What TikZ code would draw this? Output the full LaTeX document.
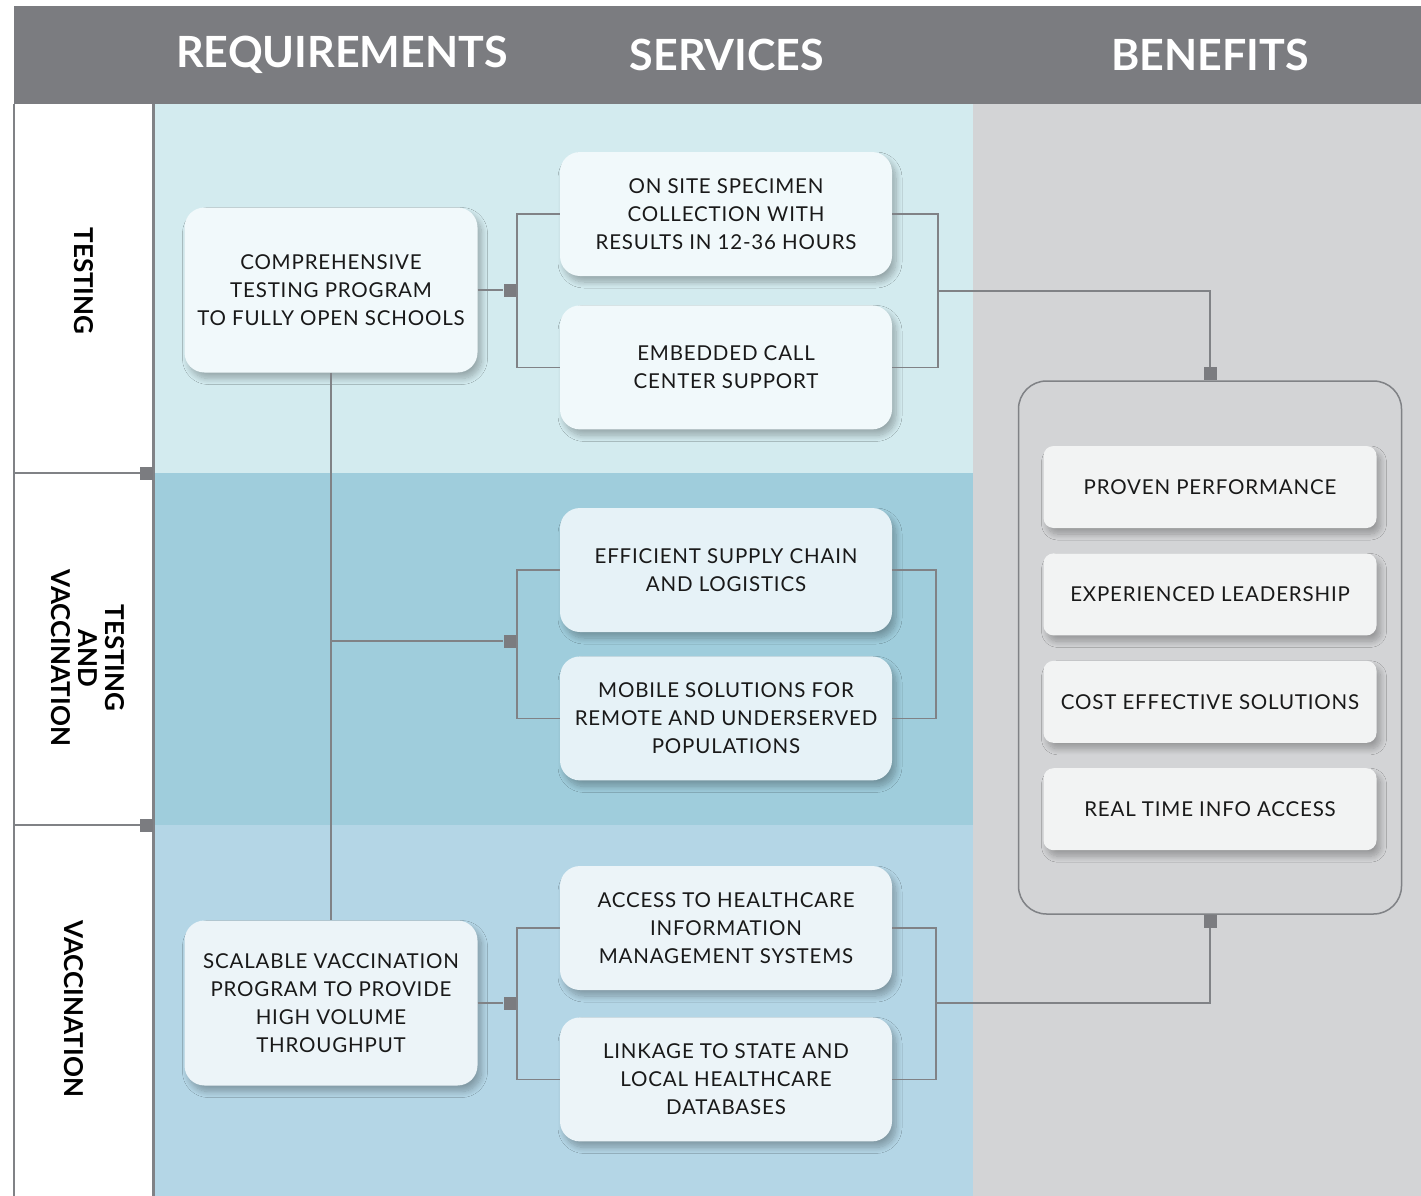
\documentclass[tikz,border=0pt]{standalone}
\usepackage{fontspec}
\setmainfont{Lato}[LetterSpace=4]
\newfontfamily\headfont{Lato}
\usetikzlibrary{positioning,shadows.blur}

\definecolor{headgray}{HTML}{7B7C80}
\definecolor{linegray}{HTML}{808286}
\definecolor{bandA}{HTML}{D3EBEF}
\definecolor{bandB}{HTML}{9FCDDC}
\definecolor{bandC}{HTML}{B4D6E6}
\definecolor{bengray}{HTML}{D3D4D6}
\definecolor{boxA}{HTML}{F1F9FB}
\definecolor{boxB}{HTML}{E6F2F7}
\definecolor{boxC}{HTML}{ECF4F8}
\definecolor{boxD}{HTML}{F2F3F3}

\begin{document}
\begin{tikzpicture}[x=1pt,y=-1pt,
    link/.style={draw=linegray,line width=1.6pt},
    jn/.style={fill=headgray,minimum size=13pt,inner sep=0pt},
    txt/.style={font=\fontsize{20.5}{28}\selectfont,align=center,text=black!90},
    soft/.style={blur shadow={shadow xshift=4pt,shadow yshift=-6pt,shadow opacity=28,shadow blur radius=6pt,shadow blur steps=10}},
    req/.style={txt,soft,rounded corners=20pt,minimum width=293pt,minimum height=165pt},
    svc/.style={txt,soft,rounded corners=20pt,minimum width=332pt,minimum height=124pt},
    ben/.style={txt,soft,fill=boxD,rounded corners=10pt,minimum width=333pt,minimum height=82pt},
    head/.style={font=\headfont\fontsize{43}{43}\selectfont\bfseries,text=white},
    side/.style={font=\headfont\fontsize{26}{27}\selectfont\bfseries,align=center,rotate=-90}]
  \useasboundingbox (0,0) rectangle (1421,1196);

  % header and bands
  \fill[white] (0,0) rectangle (1421,1196);
  \fill[headgray] (14,6) rectangle (1421,104);
  \fill[bandA] (153,104) rectangle (973,473);
  \fill[bandB] (153,473) rectangle (973,825);
  \fill[bandC] (153,825) rectangle (973,1196);
  \fill[bengray] (973,104) rectangle (1421,1196);

  \node[head] (hreq) at (342,55) {REQUIREMENTS};
  \node[head] (hsvc) at (727,55) {SERVICES};
  \node[head] (hben) at (1210,55) {BENEFITS};

  % row labels
  \draw[linegray,line width=1.5pt] (14,104) -- (14,1196);
  \draw[linegray,line width=3pt] (153,104) -- (153,1196);
  \draw[link] (14,473) -- (146,473);
  \draw[link] (14,825) -- (146,825);
  \node[jn] (row1) at (146,473) {};
  \node[jn] (row2) at (146,825) {};
  \node[side] (ltest) at (84,281) {TESTING};
  \node[side] (lboth) at (88,658) {TESTING\\AND\\VACCINATION};
  \node[side] (lvacc) at (74,1009) {VACCINATION};

  % requirements
  \node[req,fill=boxA] (comp) at (331,290) {COMPREHENSIVE\\TESTING PROGRAM\\TO FULLY OPEN SCHOOLS};
  \node[req,fill=boxC] (scal) at (331,1003) {SCALABLE VACCINATION\\PROGRAM TO PROVIDE\\HIGH VOLUME\\THROUGHPUT};

  % services
  \node[svc,fill=boxA] (onsite) at (726,214) {ON SITE SPECIMEN\\COLLECTION WITH\\RESULTS IN 12-36 HOURS};
  \node[svc,fill=boxA,below=29pt of onsite] (call) {EMBEDDED CALL\\CENTER SUPPORT};
  \node[svc,fill=boxB] (supply) at (726,570) {EFFICIENT SUPPLY CHAIN\\AND LOGISTICS};
  \node[svc,fill=boxB,below=24pt of supply] (mobile) {MOBILE SOLUTIONS FOR\\REMOTE AND UNDERSERVED\\POPULATIONS};
  \node[svc,fill=boxC] (access) at (726,928) {ACCESS TO HEALTHCARE\\INFORMATION\\MANAGEMENT SYSTEMS};
  \node[svc,fill=boxC,below=27pt of access] (linkage) {LINKAGE TO STATE AND\\LOCAL HEALTHCARE\\DATABASES};

  % benefits
  \node[draw=linegray,line width=1.5pt,rounded corners=28pt,minimum width=383pt,minimum height=533pt] (benbox) at (1210,647.5) {};
  \node[jn,above=0pt of benbox] (jtop) {};
  \node[jn,below=0pt of benbox] (jbot) {};
  \node[ben] (proven) at (1210,487) {PROVEN PERFORMANCE};
  \node[ben,below=25pt of proven] (exper) {EXPERIENCED LEADERSHIP};
  \node[ben,below=25pt of exper] (cost) {COST EFFECTIVE SOLUTIONS};
  \node[ben,below=25pt of cost] (realtime) {REAL TIME INFO ACCESS};

  % connectors
  \node[jn] (jt) at (510,290) {};
  \node[jn] (jm) at (510,641) {};
  \node[jn] (jv) at (510,1003) {};
  \coordinate (bt) at (517,290);
  \coordinate (bm) at (517,641);
  \coordinate (bv) at (517,1003);
  \coordinate (rt) at (938,291);
  \coordinate (rm) at (936,641);
  \coordinate (rv) at (936,1003);

  \draw[link] (comp) -- (scal);
  \draw[link] (comp.east) -- (jt.west);
  \draw[link] (comp.south |- jm) -- (jm.west);
  \draw[link] (scal.east) -- (jv.west);

  \draw[link] (onsite.west) -| (bt) |- (call.west);
  \draw[link] (supply.west) -| (bm) |- (mobile.west);
  \draw[link] (access.west) -| (bv) |- (linkage.west);

  \draw[link] (onsite.east) -| (rt) |- (call.east);
  \draw[link] (supply.east) -| (rm) |- (mobile.east);
  \draw[link] (access.east) -| (rv) |- (linkage.east);

  \draw[link] (rt) -| (jtop.north);
  \draw[link] (rv) -| (jbot.south);
\end{tikzpicture}
\end{document}
